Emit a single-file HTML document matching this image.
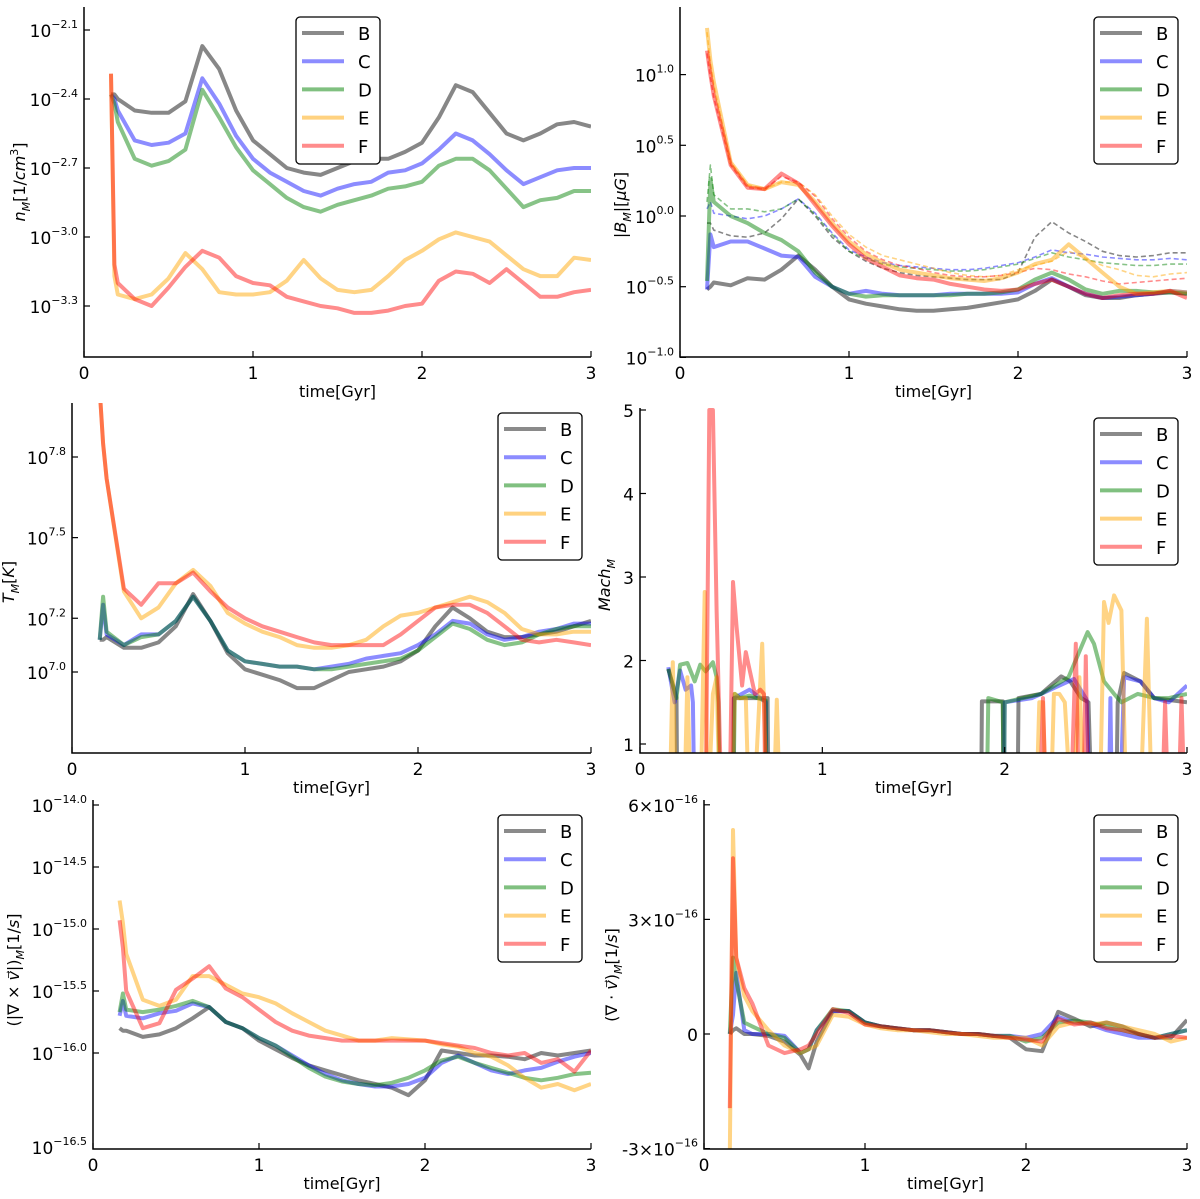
<!DOCTYPE html>
<html><head><meta charset="utf-8"><style>
html,body{margin:0;padding:0;background:#fff;}
svg{display:block;font-family:"DejaVu Sans","Liberation Sans",sans-serif;}
</style></head><body>
<svg id="fig" width="1200" height="1199" viewBox="0 0 1200 1199" xmlns="http://www.w3.org/2000/svg"></svg>
<script>
// ---------- data ----------
const T = [0.16,0.18,0.2,0.3,0.4,0.5,0.6,0.7,0.8,0.9,1.0,1.1,1.2,1.3,1.4,1.5,1.6,1.7,1.8,1.9,2.0,2.1,2.2,2.3,2.4,2.5,2.6,2.7,2.8,2.9,3.0];
const T6 = [0.16,0.18,0.2,0.25,0.3,0.4,0.5,0.6,0.65,0.7,0.8,0.9,1.0,1.1,1.2,1.3,1.4,1.5,1.6,1.7,1.8,1.9,2.0,2.1,2.2,2.3,2.4,2.5,2.6,2.7,2.8,2.9,3.0];
const seriesNames = ["B","C","D","E","F"];
// panel 1: log10 n
const nB = [-2.38,-2.38,-2.40,-2.45,-2.46,-2.46,-2.41,-2.17,-2.27,-2.45,-2.58,-2.64,-2.70,-2.72,-2.73,-2.70,-2.67,-2.66,-2.66,-2.63,-2.59,-2.48,-2.34,-2.37,-2.46,-2.55,-2.58,-2.55,-2.51,-2.50,-2.52];
const nC = [-2.38,-2.40,-2.45,-2.58,-2.60,-2.59,-2.55,-2.31,-2.42,-2.56,-2.66,-2.72,-2.76,-2.80,-2.82,-2.79,-2.77,-2.76,-2.72,-2.71,-2.68,-2.62,-2.55,-2.58,-2.64,-2.71,-2.77,-2.74,-2.71,-2.70,-2.70];
const nD = [-2.38,-2.42,-2.50,-2.66,-2.69,-2.67,-2.62,-2.36,-2.48,-2.61,-2.71,-2.77,-2.83,-2.87,-2.89,-2.86,-2.84,-2.82,-2.79,-2.78,-2.76,-2.69,-2.66,-2.66,-2.71,-2.79,-2.87,-2.84,-2.83,-2.80,-2.80];
const nE = [-2.29,-3.17,-3.25,-3.27,-3.25,-3.18,-3.07,-3.14,-3.24,-3.25,-3.25,-3.24,-3.19,-3.10,-3.18,-3.23,-3.24,-3.23,-3.17,-3.10,-3.06,-3.01,-2.98,-3.00,-3.02,-3.08,-3.14,-3.17,-3.17,-3.09,-3.10];
const nF = [-2.29,-3.12,-3.20,-3.27,-3.30,-3.22,-3.13,-3.06,-3.09,-3.17,-3.20,-3.21,-3.26,-3.28,-3.30,-3.31,-3.33,-3.33,-3.32,-3.30,-3.29,-3.19,-3.15,-3.16,-3.20,-3.14,-3.20,-3.26,-3.26,-3.24,-3.23];
// panel 2: log10 |B| solid
const bB = [-0.52,-0.50,-0.47,-0.49,-0.44,-0.45,-0.38,-0.28,-0.38,-0.50,-0.59,-0.62,-0.64,-0.66,-0.67,-0.67,-0.66,-0.65,-0.63,-0.61,-0.59,-0.53,-0.45,-0.50,-0.56,-0.58,-0.58,-0.56,-0.55,-0.54,-0.55];
const bC = [-0.52,-0.13,-0.22,-0.18,-0.18,-0.23,-0.28,-0.29,-0.43,-0.50,-0.55,-0.53,-0.55,-0.56,-0.56,-0.56,-0.55,-0.55,-0.55,-0.55,-0.54,-0.48,-0.44,-0.50,-0.55,-0.58,-0.57,-0.56,-0.55,-0.53,-0.54];
const bD = [-0.46,0.26,0.10,0.0,-0.05,-0.12,-0.17,-0.25,-0.40,-0.50,-0.55,-0.57,-0.56,-0.56,-0.56,-0.56,-0.56,-0.55,-0.55,-0.54,-0.52,-0.45,-0.40,-0.45,-0.52,-0.55,-0.53,-0.53,-0.54,-0.54,-0.55];
const bE = [1.33,1.10,0.95,0.38,0.22,0.19,0.24,0.22,0.10,-0.05,-0.18,-0.27,-0.33,-0.38,-0.40,-0.42,-0.44,-0.45,-0.46,-0.44,-0.40,-0.34,-0.31,-0.20,-0.30,-0.40,-0.50,-0.55,-0.54,-0.53,-0.54];
const bF = [1.17,1.0,0.85,0.36,0.20,0.19,0.30,0.23,0.08,-0.07,-0.20,-0.30,-0.36,-0.42,-0.44,-0.45,-0.48,-0.50,-0.52,-0.53,-0.52,-0.48,-0.45,-0.50,-0.55,-0.58,-0.56,-0.55,-0.55,-0.53,-0.58];
// panel 2 dashed
const bBd = [-0.05,-0.05,-0.10,-0.14,-0.15,-0.12,-0.02,0.12,0.0,-0.15,-0.25,-0.32,-0.37,-0.40,-0.42,-0.43,-0.44,-0.45,-0.45,-0.45,-0.40,-0.15,-0.04,-0.12,-0.18,-0.25,-0.28,-0.29,-0.28,-0.26,-0.26];
const bCd = [0.05,0.10,0.02,0.0,-0.02,0.0,0.05,0.12,0.02,-0.12,-0.24,-0.29,-0.33,-0.35,-0.36,-0.37,-0.38,-0.38,-0.37,-0.35,-0.33,-0.29,-0.24,-0.26,-0.27,-0.29,-0.30,-0.31,-0.31,-0.30,-0.31];
const bDd = [0.10,0.36,0.15,0.05,0.05,0.03,0.05,0.12,0.01,-0.13,-0.25,-0.30,-0.34,-0.36,-0.37,-0.38,-0.39,-0.39,-0.38,-0.36,-0.34,-0.30,-0.26,-0.29,-0.31,-0.33,-0.34,-0.35,-0.35,-0.34,-0.34];
const bEd = [1.30,1.08,0.93,0.38,0.22,0.19,0.24,0.24,0.15,0.0,-0.13,-0.22,-0.28,-0.31,-0.34,-0.37,-0.40,-0.42,-0.43,-0.42,-0.38,-0.35,-0.32,-0.25,-0.30,-0.35,-0.38,-0.42,-0.43,-0.41,-0.40];
const bFd = [1.15,0.98,0.84,0.36,0.20,0.19,0.28,0.24,0.14,-0.02,-0.15,-0.25,-0.31,-0.35,-0.37,-0.40,-0.42,-0.43,-0.43,-0.42,-0.40,-0.37,-0.38,-0.41,-0.43,-0.46,-0.48,-0.47,-0.46,-0.45,-0.44];
// panel 3: log10 T
const tB = [7.12,7.12,7.13,7.09,7.09,7.11,7.17,7.29,7.19,7.07,7.01,6.99,6.97,6.94,6.94,6.97,7.00,7.01,7.02,7.04,7.08,7.17,7.24,7.20,7.15,7.13,7.13,7.14,7.15,7.17,7.19];
const tC = [7.12,7.25,7.14,7.10,7.14,7.14,7.19,7.28,7.19,7.08,7.04,7.03,7.02,7.02,7.01,7.02,7.03,7.05,7.06,7.07,7.10,7.14,7.19,7.18,7.14,7.12,7.13,7.15,7.16,7.18,7.18];
const tD = [7.12,7.28,7.15,7.10,7.13,7.14,7.19,7.28,7.19,7.08,7.04,7.03,7.02,7.02,7.01,7.01,7.02,7.03,7.04,7.05,7.08,7.13,7.18,7.16,7.12,7.10,7.11,7.14,7.16,7.17,7.17];
const tE = [8.05,7.85,7.72,7.30,7.20,7.24,7.33,7.38,7.32,7.22,7.18,7.15,7.13,7.10,7.09,7.09,7.10,7.12,7.17,7.21,7.22,7.24,7.26,7.28,7.26,7.22,7.16,7.14,7.14,7.15,7.15];
const tF = [8.05,7.85,7.72,7.31,7.25,7.33,7.33,7.37,7.30,7.24,7.20,7.17,7.15,7.13,7.11,7.10,7.10,7.10,7.10,7.14,7.19,7.24,7.25,7.25,7.22,7.17,7.12,7.11,7.12,7.11,7.10];
// panel 4: Mach (own time arrays per series)
const mBt = [0.155,0.20,0.205,0.51,0.515,0.70,0.705,1.87,1.875,1.99,1.995,2.07,2.076,2.2,2.31,2.36,2.42,2.46,2.48,2.61,2.62,2.655,2.745,2.82,3.0];
const mBv = [1.9,1.55,0,0,1.55,1.55,0,0,1.51,1.51,0,0,1.55,1.6,1.81,1.75,1.55,1.5,0,0,1.5,1.85,1.75,1.55,1.5];
const mCt = [0.155,0.19,0.22,0.25,0.28,0.29,0.30,0.51,0.515,0.60,0.69,0.695,1.995,2.0,2.15,2.38,2.45,2.47,2.57,2.58,2.59,2.63,2.655,2.745,2.82,2.9,3.0];
const mCv = [1.92,1.5,1.88,1.65,1.7,1.5,0,0,1.55,1.65,1.5,0,0,1.5,1.55,1.78,1.53,0,0,1.55,0,0,1.8,1.75,1.55,1.5,1.7];
const mDt = [0.155,0.2,0.22,0.26,0.30,0.33,0.36,0.40,0.42,0.43,0.44,0.51,0.52,0.55,0.6,0.69,0.695,1.90,1.91,1.99,1.995,2.0,2.2,2.35,2.455,2.49,2.545,2.6,2.64,2.73,2.82,2.9,3.0];
const mDv = [1.9,1.55,1.95,1.97,1.75,1.95,1.87,1.98,1.8,1.5,0,0,1.6,1.55,1.58,1.52,0,0,1.55,1.5,0,1.5,1.6,1.8,2.34,2.2,1.75,1.6,1.5,1.6,1.55,1.55,1.6];
const mEt = [0.16,0.18,0.2,0.24,0.26,0.28,0.33,0.355,0.37,0.40,0.42,0.44,0.50,0.52,0.54,0.58,0.60,0.62,0.67,0.70,0.73,0.75,0.77,2.17,2.19,2.21,2.23,2.25,2.27,2.30,2.33,2.37,2.41,2.44,2.52,2.545,2.57,2.6,2.64,2.67,2.74,2.78,2.81,3.0];
const mEv = [0,1.98,0,0,1.8,0,0,2.82,0,1.6,1.8,0,0,1.6,1.55,1.55,0,0,2.2,0,0,1.53,0,0,1.5,1.5,0,0,1.6,1.6,1.5,0,1.8,0,0,2.7,2.45,2.78,2.6,0,0,2.5,0,0];
const mFt = [0.36,0.38,0.40,0.42,0.45,0.49,0.51,0.53,0.56,0.58,0.60,0.63,0.66,0.68,0.69,2.19,2.21,2.23,2.36,2.39,2.41,2.43,2.445,2.46,2.86,2.88,2.9,2.95,2.97,2.99];
const mFv = [0,5,5,2.6,0,0,2.94,2.4,1.7,2.1,1.9,1.6,1.65,1.6,0,0,1.55,0,0,2.2,0,0,2.05,0,0,1.5,0,0,1.55,0];
// panel 5: log10 |curl v|
const cB = [-15.80,-15.82,-15.82,-15.87,-15.85,-15.80,-15.72,-15.63,-15.75,-15.80,-15.90,-15.97,-16.04,-16.10,-16.14,-16.18,-16.22,-16.25,-16.28,-16.34,-16.22,-15.98,-16.00,-16.02,-16.02,-16.03,-16.05,-16.00,-16.02,-16.00,-15.98];
const cC = [-15.70,-15.58,-15.70,-15.72,-15.68,-15.66,-15.60,-15.63,-15.75,-15.80,-15.88,-15.94,-16.02,-16.10,-16.17,-16.22,-16.25,-16.27,-16.27,-16.25,-16.20,-16.08,-16.02,-16.08,-16.14,-16.17,-16.14,-16.12,-16.07,-16.03,-16.00];
const cD = [-15.67,-15.52,-15.65,-15.67,-15.65,-15.62,-15.58,-15.63,-15.75,-15.80,-15.88,-15.94,-16.03,-16.12,-16.19,-16.23,-16.25,-16.26,-16.24,-16.20,-16.14,-16.06,-16.03,-16.08,-16.12,-16.16,-16.20,-16.22,-16.20,-16.17,-16.16];
const cE = [-14.77,-14.95,-15.20,-15.57,-15.62,-15.57,-15.38,-15.38,-15.45,-15.52,-15.55,-15.60,-15.68,-15.75,-15.82,-15.86,-15.90,-15.90,-15.88,-15.89,-15.90,-15.93,-15.95,-16.00,-16.03,-16.10,-16.20,-16.28,-16.25,-16.30,-16.25];
const cF = [-14.93,-15.15,-15.50,-15.80,-15.76,-15.49,-15.40,-15.30,-15.48,-15.55,-15.65,-15.75,-15.82,-15.86,-15.88,-15.90,-15.90,-15.90,-15.90,-15.90,-15.90,-15.92,-15.94,-15.96,-16.00,-16.02,-16.00,-16.08,-16.05,-16.15,-15.98];
// panel 6: div v (units of 1e-16)
const dB = [0,0.1,0.15,0.0,0.0,-0.05,-0.2,-0.55,-0.9,-0.2,0.6,0.6,0.3,0.2,0.15,0.1,0.1,0.05,0.0,0.0,-0.05,-0.1,-0.4,-0.45,0.58,0.4,0.2,0.3,0.2,0.0,-0.1,-0.1,0.37];
const dC = [0,0.5,1.6,0.1,0.0,0.0,-0.05,-0.5,-0.4,0.1,0.6,0.6,0.3,0.2,0.15,0.1,0.1,0.05,0.0,0.0,-0.05,-0.05,-0.1,0.0,0.45,0.3,0.25,0.1,0.0,-0.1,-0.1,0.0,0.1];
const dD = [0,2.0,1.4,0.3,0.2,0.0,-0.1,-0.5,-0.4,0.1,0.65,0.6,0.3,0.2,0.15,0.1,0.1,0.05,0.0,0.0,-0.05,-0.05,-0.2,-0.1,0.3,0.35,0.3,0.2,0.1,0.0,-0.1,0.0,0.1];
const dE = [-3.2,5.34,2.0,1.0,0.6,0.1,-0.3,-0.5,-0.4,-0.3,0.5,0.45,0.25,0.15,0.1,0.1,0.05,0.0,0.0,-0.05,-0.1,-0.1,-0.1,-0.3,0.2,0.3,0.25,0.3,0.2,0.1,0.0,-0.2,-0.1];
const dF = [-1.94,4.6,2.0,1.2,0.8,-0.3,-0.5,-0.4,-0.3,0.0,0.65,0.55,0.25,0.2,0.15,0.1,0.1,0.05,0.0,0.0,-0.05,-0.1,-0.15,-0.2,0.4,0.25,0.3,0.15,0.1,0.0,-0.1,-0.05,-0.1];
// tick labels
const xTicks = [0,1,2,3];
const logTicks1 = [-2.1,-2.4,-2.7,-3.0,-3.3];
const logTicks2 = [1.0,0.5,0.0,-0.5,-1.0];
const logTicks3 = [7.8,7.5,7.2,7.0];
const machTicks = [1,2,3,4,5];
const logTicks5 = [-14.0,-14.5,-15.0,-15.5,-16.0];
const divTicks = [6,3,0,-3];

// ---------- drawing ----------
const NS = "http://www.w3.org/2000/svg";
const svg = document.getElementById("fig");
const COLORS = ["rgba(0,0,0,0.47)","rgba(0,0,255,0.45)","rgba(0,128,0,0.47)","rgba(255,165,0,0.48)","rgba(255,0,0,0.45)"];
const LEGCOL = ["#8a8a8a","#8c8cff","#80c080","#ffd280","#ff8c8c"];
function mk(tag, attrs, parent){const e=document.createElementNS(NS,tag);for(const k in attrs)e.setAttribute(k,attrs[k]);(parent||svg).appendChild(e);return e;}
function fmtExp(v){const s=v.toFixed(1);return s.replace("-","\u2212");}
let clipId=0;

function panel(p){
  const g = mk("g",{});
  
  
  const xs = t => p.L + t*(p.R-p.L)/3;
  const cid = "clip"+(clipId++);
  const cp = mk("clipPath",{id:cid},g);
  mk("rect",{x:p.L,y:p.T,width:p.R-p.L,height:p.B-p.T},cp);
  const lines = mk("g",{"clip-path":"url(#"+cid+")"},g);
  // series
  p.series.forEach(s=>{
    const pts = s.t.map((t,i)=>xs(t).toFixed(1)+","+p.ys(s.v[i]).toFixed(1)).join(" ");
    const pl = mk("polyline",{points:pts,fill:"none",stroke:COLORS[s.c],"stroke-width":s.dash?1.6:4,"stroke-linejoin":"round","stroke-dasharray":s.dash?"5,3":"none"},lines);
    
    
  });
  // axes spines
  const ax = mk("path",{d:`M${p.L},${p.T} V${p.B} H${p.R}`,fill:"none",stroke:"#000","stroke-width":1.5},g);
  
  
  // x ticks
  xTicks.forEach(t=>{
    const x=xs(t);
    mk("line",{x1:x,x2:x,y1:p.B,y2:p.B-6,stroke:"#000","stroke-width":1.2},g);
    const tx=mk("text",{x:x,y:p.B+22,"font-size":17,"text-anchor":"middle"},g);
    tx.textContent=String(t);
    
    
  });
  const xl=mk("text",{x:(p.L+p.R)/2,y:p.B+40,"font-size":16,"text-anchor":"middle"},g);
  xl.textContent="time[Gyr]";
  
  
  // y ticks
  p.yticks.forEach(v=>{
    const y=p.ys(v);
    mk("line",{x1:p.L,x2:p.L+6,y1:y,y2:y,stroke:"#000","stroke-width":1.2},g);
    const tx=mk("text",{x:p.L-6,y:y+7,"font-size":17,"text-anchor":"end"},g);
    
    
    p.tickLabel(tx,v);
  });
  if(p.extra) p.extra(g);
  // y title
  const yt=mk("text",{transform:`translate(${p.yx},${p.yy}) rotate(-90)`,"font-size":16,"text-anchor":"middle"},g);
  yt.innerHTML=p.ytitle;
  
  
  // legend
  const lg=mk("g",{},g);
  
  
  mk("rect",{x:p.lx,y:p.ly,width:84,height:147,rx:4,fill:"#fff",stroke:"#000","stroke-width":1.3},lg);
  seriesNames.forEach((n,i)=>{
    const y=p.ly+16+i*28.2;
    const e=mk("g",{},lg);
    
    
    mk("line",{x1:p.lx+6,x2:p.lx+48,y1:y,y2:y,stroke:LEGCOL[i],"stroke-width":4},e);
    const t=mk("text",{x:p.lx+62,y:y+7,"font-size":18},e);
    t.textContent=n;
  });
}
function expLabel(tx,v){tx.innerHTML='10<tspan dy="-9" font-size="11">'+fmtExp(v)+'</tspan>';}
function mkSeries(t, arrs, dash){return arrs.map((v,i)=>({t:t,v:v,c:i,label:seriesNames[i]+(dash?"-dashed":""),dash:dash}));}

// Panel 1
panel({name:"panel-density",L:84,R:591,T:7,B:357,ys:v=>30+(-2.1-v)*230,yticks:logTicks1,tickLabel:expLabel,
  series:mkSeries(T,[nB,nC,nD,nE,nF]),yx:25,yy:182,
  ytitle:'<tspan font-style="italic">n</tspan><tspan font-size="11" dy="5" font-style="italic">M</tspan><tspan dy="-5">[1/</tspan><tspan font-style="italic">cm</tspan><tspan font-size="11" dy="-7">3</tspan><tspan dy="7">]</tspan>',
  lx:296,ly:17});
// Panel 2
panel({name:"panel-magnetic-field",L:680,R:1187,T:7,B:357,ys:v=>216-v*141.4,yticks:logTicks2,tickLabel:expLabel,
  series:mkSeries(T,[bBd,bCd,bDd,bEd,bFd],true).concat(mkSeries(T,[bB,bC,bD,bE,bF])),yx:626,yy:205,
  ytitle:'|<tspan font-style="italic">B</tspan><tspan font-size="11" dy="5" font-style="italic">M</tspan><tspan dy="-5">|[</tspan><tspan font-style="italic">μG</tspan>]',
  lx:1094,ly:17});
// Panel 3
panel({name:"panel-temperature",L:72,R:591,T:403,B:753,ys:v=>672-(v-7)*268.75,yticks:logTicks3,tickLabel:expLabel,
  series:mkSeries(T,[tB,tC,tD,tE,tF]),yx:14,yy:582,
  ytitle:'<tspan font-style="italic">T</tspan><tspan font-size="11" dy="5" font-style="italic">M</tspan><tspan dy="-5">[</tspan><tspan font-style="italic">K</tspan>]',
  lx:498,ly:413});
// Panel 4
panel({name:"panel-mach",L:640,R:1187,T:408,B:753,ys:v=>744-(v-1)*83.5,yticks:machTicks,tickLabel:(tx,v)=>{tx.textContent=String(v);},
  series:[{t:mBt,v:mBv,c:0,label:"B"},{t:mCt,v:mCv,c:1,label:"C"},{t:mDt,v:mDv,c:2,label:"D"},{t:mEt,v:mEv,c:3,label:"E"},{t:mFt,v:mFv,c:4,label:"F"}],
  yx:610,yy:585,
  ytitle:'<tspan font-style="italic">Mach</tspan><tspan font-size="11" dy="5" font-style="italic">M</tspan>',
  lx:1094,ly:418});
// Panel 5
panel({name:"panel-vorticity",L:93,R:591,T:800,B:1149,ys:v=>805+(-14-v)*124,yticks:logTicks5,tickLabel:expLabel,
  series:mkSeries(T,[cB,cC,cD,cE,cF]),yx:19,yy:970,
  ytitle:'(|∇ × <tspan font-style="italic">v⃗</tspan>|)<tspan font-size="11" dy="5" font-style="italic">M</tspan><tspan dy="-5">[1/</tspan><tspan font-style="italic">s</tspan>]',
  lx:498,ly:815,
  extra:g=>{const t=mk("text",{x:87,y:1154,"font-size":17,"text-anchor":"end"},g);expLabel(t,-16.5);
    
    }});
// Panel 6
panel({name:"panel-divergence",L:704,R:1187,T:800,B:1149,ys:v=>1034-v*38.2,yticks:divTicks,
  tickLabel:(tx,v)=>{ if(v===0){tx.textContent="0";} else {tx.innerHTML=(v<0?"-":"")+Math.abs(v)+'×10<tspan dy="-9" font-size="11">\u221216</tspan>';}},
  series:mkSeries(T6,[dB,dC,dD,dE,dF]),yx:617,yy:975,
  ytitle:'(∇ · <tspan font-style="italic">v⃗</tspan>)<tspan font-size="11" dy="5" font-style="italic">M</tspan><tspan dy="-5">[1/</tspan><tspan font-style="italic">s</tspan>]',
  lx:1094,ly:815});
</script>
</body></html>
